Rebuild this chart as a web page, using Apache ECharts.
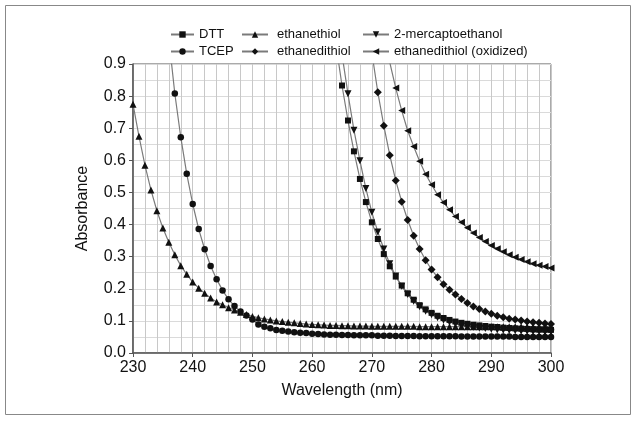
<!DOCTYPE html>
<html>
<head>
<meta charset="utf-8">
<script src="https://cdn.jsdelivr.net/npm/echarts@6/dist/echarts.min.js"></script>
<style>html,body{margin:0;padding:0;background:#fff}#c{width:637px;height:422px}</style>
</head>
<body>
<div id="c"></div>
<script>
// Wavelength (nm) ticks
const xTicks = [230, 240, 250, 260, 270, 280, 290, 300];
const yTicks = [0.0, 0.1, 0.2, 0.3, 0.4, 0.5, 0.6, 0.7, 0.8, 0.9];

// Each series: first wavelength, then absorbance at 1 nm steps
const ethanethiolStart = 230;
const ethanethiol = [0.775,0.675,0.585,0.508,0.443,0.389,0.345,0.306,0.272,0.245,
  0.221,0.202,0.186,0.171,0.159,0.150,0.141,0.134,0.127,0.120,
  0.114,0.110,0.106,0.103,0.100,0.098,0.096,0.094,0.092,0.090,
  0.089,0.088,0.087,0.086,0.086,0.085,0.085,0.084,0.084,0.084,
  0.083,0.083,0.083,0.083,0.083,0.083,0.083,0.083,0.082,0.082,
  0.082,0.082,0.082,0.082,0.082,0.082,0.082,0.082,0.082,0.082,
  0.082,0.082,0.082,0.082,0.082,0.082,0.082,0.082,0.082,0.082,0.082];

const tcepStart = 235;
const tcep = [1.2,0.98,0.808,0.672,0.558,0.464,0.386,0.323,0.271,0.230,
  0.195,0.167,0.146,0.129,0.117,0.104,0.089,0.082,0.077,0.072,
  0.069,0.067,0.065,0.063,0.062,0.060,0.059,0.058,0.057,0.057,
  0.056,0.056,0.055,0.055,0.055,0.055,0.054,0.054,0.054,0.053,
  0.053,0.053,0.053,0.052,0.052,0.052,0.052,0.052,0.052,0.052,
  0.051,0.051,0.051,0.051,0.051,0.051,0.051,0.051,0.051,0.050,
  0.050,0.050,0.050,0.050,0.050,0.050];

const dttStart = 264;
const dtt = [0.96,0.833,0.724,0.628,0.542,0.470,0.407,0.355,0.308,0.270,
  0.238,0.210,0.186,0.166,0.149,0.136,0.125,0.116,0.109,0.103,
  0.098,0.094,0.091,0.088,0.086,0.084,0.082,0.081,0.079,0.078,
  0.077,0.076,0.075,0.074,0.073,0.073,0.072];

const mercaptoStart = 265;
const mercapto = [0.93,0.807,0.694,0.599,0.512,0.438,0.377,0.324,0.278,0.240,
  0.208,0.182,0.161,0.144,0.130,0.119,0.110,0.102,0.096,0.091,
  0.087,0.083,0.080,0.078,0.076,0.074,0.072,0.071,0.070,0.069,
  0.068,0.067,0.066,0.066,0.065,0.065];

const ethanedithiolStart = 270;
const ethanedithiol = [0.935,0.812,0.708,0.616,0.537,0.471,0.414,0.365,0.324,0.289,
  0.260,0.236,0.214,0.197,0.182,0.168,0.156,0.145,0.137,0.129,
  0.122,0.116,0.111,0.107,0.104,0.101,0.098,0.096,0.094,0.092,0.090];

const oxidizedStart = 272;
const oxidized = [1.0,0.905,0.825,0.755,0.692,0.643,0.597,0.557,0.524,0.493,
  0.469,0.446,0.425,0.407,0.390,0.374,0.360,0.347,0.335,0.325,
  0.315,0.306,0.298,0.291,0.284,0.278,0.273,0.269,0.265];

function pts(start, vals){ return vals.map((v,i)=>[start+i, v]); }

const lineColor = '#7a7a7a';
function mk(name, start, vals, symbol, size, rot){
  return {
    name: name, type: 'line', data: pts(start, vals),
    symbol: symbol, symbolSize: size, symbolRotate: rot || 0,
    showAllSymbol: true, clip: true, smooth: false,
    lineStyle: {color: lineColor, width: 1.2},
    itemStyle: {color: '#111', borderWidth: 0},
    emphasis: {disabled: true}, animation: false, z: 3
  };
}

const chart = echarts.init(document.getElementById('c'), null, {renderer: 'canvas'});
const font = '"Liberation Sans", Arial, Helvetica, sans-serif';
const legendBase = {
  orient: 'vertical', top: 28, itemWidth: 26, itemHeight: 8, itemGap: 4,
  textStyle: {fontFamily: font, fontSize: 13, color: '#111', padding: [0,0,0,0]},
  selectedMode: false, padding: 0
};
chart.setOption({
  animation: false,
  backgroundColor: '#fff',
  graphic: [{type: 'rect', shape: {x: 5.5, y: 5.5, width: 625, height: 409},
    style: {fill: 'none', stroke: '#888', lineWidth: 1}, silent: true}],
  legend: [
    Object.assign({}, legendBase, {left: 170, itemWidth: 23, data: ['DTT', 'TCEP']}),
    Object.assign({}, legendBase, {left: 241, data: ['ethanethiol', 'ethanedithiol'], textStyle: Object.assign({}, legendBase.textStyle, {padding: [0,0,0,4]})}),
    Object.assign({}, legendBase, {left: 362, data: ['2-mercaptoethanol', 'ethanedithiol (oxidized)']})
  ],
  grid: {left: 133, right: 86, top: 64, bottom: 69, show: true, borderColor: '#555', borderWidth: 1, containLabel: false},
  xAxis: {
    type: 'value', min: 230, max: 300, interval: 10,
    name: 'Wavelength (nm)', nameLocation: 'middle', nameGap: 30,
    nameTextStyle: {fontFamily: font, fontSize: 16, color: '#111'},
    axisLine: {show: true, lineStyle: {color: '#555', width: 1.5}},
    axisTick: {show: true, length: 4, lineStyle: {color: '#555'}},
    axisLabel: {fontFamily: font, fontSize: 16, color: '#111', margin: 7,
      formatter: v => xTicks.includes(v) ? String(v) : ''},
    splitLine: {show: true, lineStyle: {color: '#c8c8c8', width: 1}},
    minorTick: {show: false, splitNumber: 5},
    minorSplitLine: {show: true, lineStyle: {color: '#c8c8c8', width: 1}}
  },
  yAxis: {
    type: 'value', min: 0, max: 0.9, interval: 0.1,
    name: 'Absorbance', nameLocation: 'middle', nameGap: 42,
    nameTextStyle: {fontFamily: font, fontSize: 16, color: '#111'},
    axisLine: {show: true, lineStyle: {color: '#555', width: 1.5}},
    axisTick: {show: true, length: 4, lineStyle: {color: '#555'}},
    axisLabel: {fontFamily: font, fontSize: 16, color: '#111', margin: 7,
      formatter: v => { const t = yTicks.find(y => Math.abs(y - v) < 1e-6); return t === undefined ? '' : t.toFixed(1); }},
    splitLine: {show: true, lineStyle: {color: '#dadada', width: 1}},
    minorTick: {show: false, splitNumber: 2},
    minorSplitLine: {show: true, lineStyle: {color: '#dadada', width: 1}}
  },
  series: [
    mk('DTT', dttStart, dtt, 'rect', 6),
    mk('TCEP', tcepStart, tcep, 'circle', 6.5),
    mk('ethanethiol', ethanethiolStart, ethanethiol, 'triangle', 7),
    mk('ethanedithiol', ethanedithiolStart, ethanedithiol, 'diamond', 8),
    mk('2-mercaptoethanol', mercaptoStart, mercapto, 'triangle', 7, 180),
    mk('ethanedithiol (oxidized)', oxidizedStart, oxidized, 'triangle', 7, 90)
  ]
});
</script>
</body>
</html>
